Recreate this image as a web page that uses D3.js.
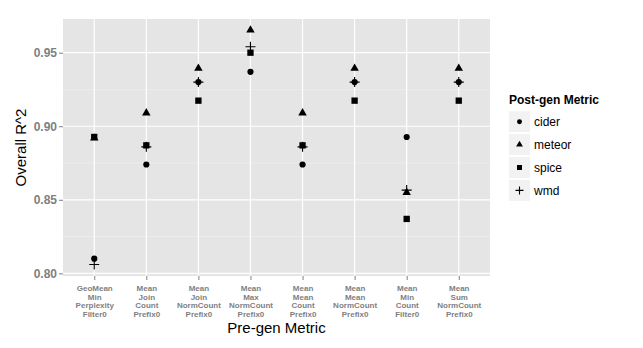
<!DOCTYPE html>
<html>
<head>
<meta charset="utf-8">
<script src="https://cdn.jsdelivr.net/npm/d3@7"></script>
<style>
  body { margin: 0; background: #fff; }
  svg { font-family: "Liberation Sans", Arial, sans-serif; }
</style>
</head>
<body>
<div class="chart"></div>
<script>
const WIDTH = 643;
const HEIGHT = 348;
const MARGIN = { top: 19, right: 153, bottom: 72, left: 63 };

// categories (multi-line tick labels)
const categories = [
	'GeoMean Min Perplexity Filter0',
	'Mean Join Count Prefix0',
	'Mean Join NormCount Prefix0',
	'Mean Max NormCount Prefix0',
	'Mean Mean Count Prefix0',
	'Mean Mean NormCount Prefix0',
	'Mean Min Count Filter0',
	'Mean Sum NormCount Prefix0'
];

const metrics = ['cider', 'meteor', 'spice', 'wmd'];

// values per category
const cider = [0.810, 0.874, 0.930, 0.937, 0.874, 0.930, 0.8927, 0.930];
const meteor = [0.892, 0.909, 0.9394, 0.9654, 0.909, 0.9394, 0.855, 0.9394];
const spice = [0.8927, 0.887, 0.9174, 0.950, 0.887, 0.9174, 0.837, 0.9174];
const wmd = [0.806, 0.886, 0.930, 0.954, 0.886, 0.930, 0.8566, 0.930];

const yTicks = [0.8, 0.85, 0.9, 0.95];
const yMinor = [0.825, 0.875, 0.925];

const series = { cider: cider, meteor: meteor, spice: spice, wmd: wmd };

const svg = d3
	.select('.chart')
	.append('svg')
	.attr('width', WIDTH)
	.attr('height', HEIGHT);

const pw = WIDTH - MARGIN.left - MARGIN.right;
const ph = HEIGHT - MARGIN.top - MARGIN.bottom;

const x = d3
	.scalePoint()
	.domain(categories)
	.range([MARGIN.left, MARGIN.left + pw])
	.padding(0.6);

const y = d3
	.scaleLinear()
	.domain([0.7982, 0.9729])
	.range([MARGIN.top + ph, MARGIN.top]);

// panel
svg.append('rect')
	.attr('x', MARGIN.left)
	.attr('y', MARGIN.top)
	.attr('width', pw)
	.attr('height', ph)
	.attr('fill', '#e5e5e5');

// grid
svg.selectAll('.minor')
	.data(yMinor)
	.enter()
	.append('line')
	.attr('x1', MARGIN.left)
	.attr('x2', MARGIN.left + pw)
	.attr('y1', d => y(d))
	.attr('y2', d => y(d))
	.attr('stroke', '#f2f2f2')
	.attr('stroke-width', 0.6);

svg.selectAll('.major')
	.data(yTicks)
	.enter()
	.append('line')
	.attr('x1', MARGIN.left)
	.attr('x2', MARGIN.left + pw)
	.attr('y1', d => y(d))
	.attr('y2', d => y(d))
	.attr('stroke', '#fff')
	.attr('stroke-width', 1.2);

svg.selectAll('.vgrid')
	.data(categories)
	.enter()
	.append('line')
	.attr('x1', d => x(d))
	.attr('x2', d => x(d))
	.attr('y1', MARGIN.top)
	.attr('y2', MARGIN.top + ph)
	.attr('stroke', '#fff')
	.attr('stroke-width', 1.2);

// axes
const yAxis = svg.append('g')
	.attr('transform', `translate(${MARGIN.left}, 0)`)
	.call(d3.axisLeft(y).tickValues(yTicks).tickFormat(d3.format('.2f')).tickSize(4).tickPadding(2));
yAxis.select('.domain').remove();
yAxis.selectAll('line').attr('stroke', '#7f7f7f');
yAxis.selectAll('text')
	.attr('fill', '#7f7f7f')
	.attr('font-size', 12)
	.attr('font-weight', 'bold')
	.attr('font-family', 'Liberation Sans, Arial, sans-serif');

const xAxis = svg.append('g')
	.attr('transform', `translate(0, ${MARGIN.top + ph})`)
	.call(d3.axisBottom(x).tickSize(4).tickFormat(''));
xAxis.select('.domain').remove();
xAxis.selectAll('line').attr('stroke', '#7f7f7f');

xAxis.selectAll('.tick')
	.append('text')
	.attr('fill', '#7f7f7f')
	.attr('font-size', 8)
	.attr('font-weight', 'bold')
	.attr('text-anchor', 'middle')
	.attr('font-family', 'Liberation Sans, Arial, sans-serif')
	.selectAll('tspan')
	.data(d => d.split(' '))
	.enter()
	.append('tspan')
	.attr('x', 0)
	.attr('y', (d, i) => 15 + i * 8.7)
	.text(d => d);

// axis titles
svg.append('text')
	.attr('x', MARGIN.left + pw / 2)
	.attr('y', 333)
	.attr('text-anchor', 'middle')
	.attr('font-size', 15)
	.text('Pre-gen Metric');

svg.append('text')
	.attr('transform', 'rotate(-90)')
	.attr('x', -(MARGIN.top + ph / 2))
	.attr('y', 26)
	.attr('text-anchor', 'middle')
	.attr('font-size', 15)
	.text('Overall R^2');

// shapes
function drawShape(g, m, k) {
	if (m === 'wmd') {
		const h = 5 * k;
		g.append('path')
			.attr('d', `M${-h},0H${h}M0,${-h}V${h}`)
			.attr('stroke', '#000')
			.attr('stroke-width', 1.1)
			.attr('fill', 'none');
	} else {
		const sizes = { cider: 30, meteor: 31, spice: 40 };
		const types = { cider: d3.symbolCircle, meteor: d3.symbolTriangle, spice: d3.symbolSquare };
		g.append('path')
			.attr('d', d3.symbol().type(types[m]).size(sizes[m] * k * k)())
			.attr('fill', '#000');
	}
}

metrics.forEach(m => {
	series[m].forEach((v, i) => {
		const g = svg.append('g')
			.attr('transform', `translate(${x(categories[i])}, ${y(v)})`);
		drawShape(g, m, 1);
	});
});

// legend
const legend = svg.append('g').attr('transform', 'translate(509, 0)');
legend.append('text')
	.attr('x', 0)
	.attr('y', 104)
	.attr('font-size', 12)
	.attr('font-weight', 'bold')
	.text('Post-gen Metric');

metrics.forEach((m, i) => {
	const cy = 121.7 + i * 22.9;
	legend.append('rect')
		.attr('x', 0)
		.attr('y', cy - 10.5)
		.attr('width', 21)
		.attr('height', 21)
		.attr('fill', '#f2f2f2');
	const g = legend.append('g').attr('transform', `translate(10.5, ${cy})`);
	drawShape(g, m, 0.8);
	legend.append('text')
		.attr('x', 25)
		.attr('y', cy + 4.5)
		.attr('font-size', 12)
		.text(m);
});
</script>
</body>
</html>
